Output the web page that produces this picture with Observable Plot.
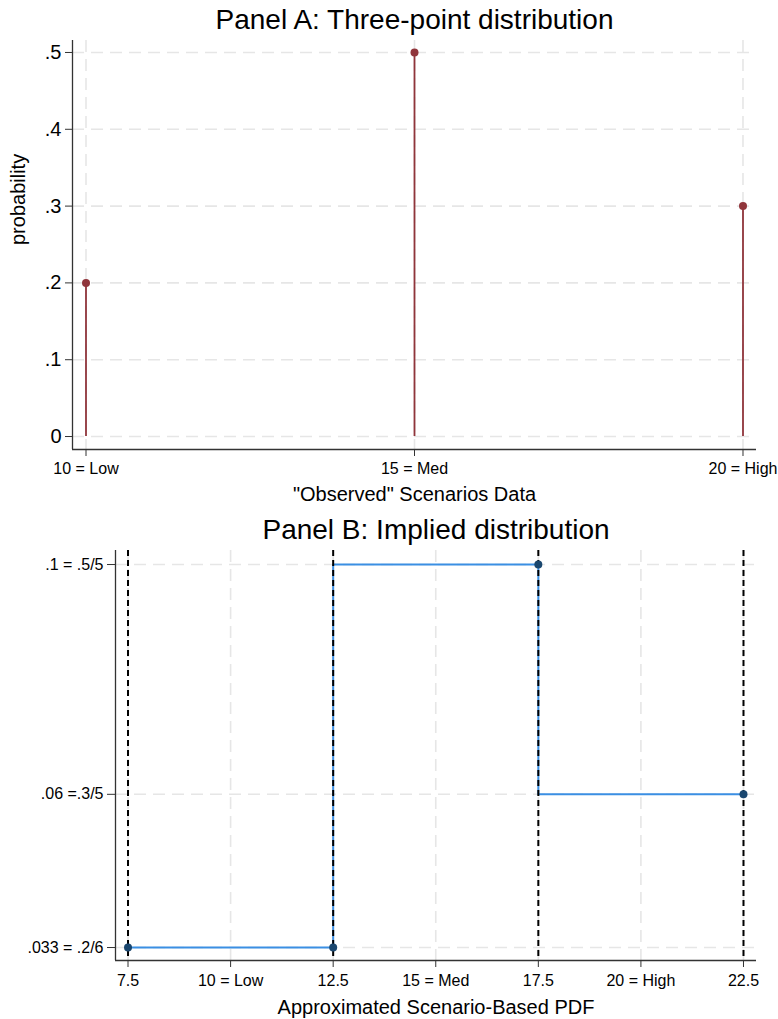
<!DOCTYPE html>
<html>
<head>
<meta charset="utf-8">
<script src="https://cdn.jsdelivr.net/npm/d3@7"></script>
<script src="https://cdn.jsdelivr.net/npm/@observablehq/plot@0.6"></script>
<style>
  html, body { margin: 0; padding: 0; background: #fff; }
  body { width: 778px; height: 1019px; overflow: hidden; }
  #chart svg { display: block; }
</style>
</head>
<body>
<div id="chart"></div>
<script>
// Panel A: three scenarios and their probabilities
const scenarioX = [10, 15, 20];
const scenarioLabels = ["10 = Low", "15 = Med", "20 = High"];
const probabilities = [0.2, 0.5, 0.3];
const probTicks = [0, 0.1, 0.2, 0.3, 0.4, 0.5];

// Panel B: implied piecewise-constant density over scenario bins
const binEdges = [7.5, 12.5, 17.5, 22.5];
const pdfX = [7.5, 12.5, 17.5, 22.5];
const pdfY = [0.2 / 6, 0.2 / 6, 0.5 / 5, 0.3 / 5];
const pdfTicks = [0.2 / 6, 0.3 / 5, 0.5 / 5];
const pdfTickLabels = [".033 = .2/6", ".06 =.3/5", ".1 = .5/5"];
const binTicks = [7.5, 10, 12.5, 15, 17.5, 20, 22.5];
const binTickLabels = ["7.5", "10 = Low", "12.5", "15 = Med", "17.5", "20 = High", "22.5"];

const FONT = "'Liberation Sans', Arial, Helvetica, sans-serif";
const gridStyle = {stroke: "#e6e6e6", strokeOpacity: 1, strokeWidth: 1.6, strokeDasharray: "12,7"};
const axisColor = "#333";

const pointsA = scenarioX.map((x, i) => ({x, p: probabilities[i]}));
const labelA = new Map(scenarioX.map((x, i) => [x, scenarioLabels[i]]));
const xDomA = [9.7945, 20.2055];
const yDomA = [-0.0169, 0.5156];

const panelA = Plot.plot({
  width: 778,
  height: 510,
  marginTop: 40,
  marginBottom: 61,
  marginLeft: 72,
  marginRight: 22,
  style: {fontFamily: FONT, background: "#fff", overflow: "visible", color: "#000"},
  x: {domain: xDomA},
  y: {domain: yDomA},
  marks: [
    Plot.gridY(probTicks, gridStyle),
    Plot.gridX(scenarioX, gridStyle),
    Plot.ruleX([xDomA[0]], {stroke: axisColor, strokeWidth: 1.3}),
    Plot.ruleY([yDomA[0]], {stroke: axisColor, strokeWidth: 1.3}),
    Plot.axisY(probTicks, {
      tickSize: 7, tickPadding: 4, fontSize: 20, stroke: axisColor, label: null,
      tickFormat: d => d === 0 ? "0" : d3.format(".1f")(d).replace(/^0/, "")
    }),
    Plot.axisX(scenarioX, {
      tickSize: 7, tickPadding: 6, fontSize: 16, stroke: axisColor, label: null,
      tickFormat: d => labelA.get(d)
    }),
    Plot.ruleX(pointsA, {x: "x", y1: 0, y2: "p", stroke: "#90353b", strokeWidth: 1.8}),
    Plot.dot(pointsA, {x: "x", y: "p", r: 4, fill: "#90353b", stroke: "none"}),
    Plot.text(["Panel A: Three-point distribution"], {
      text: d => d, frameAnchor: "top", dy: -20, fontSize: 28, lineAnchor: "middle"
    }),
    Plot.text(["\"Observed\" Scenarios Data"], {
      text: d => d, frameAnchor: "bottom", dy: 45, fontSize: 20, lineAnchor: "middle"
    }),
    Plot.text(["probability"], {
      text: d => d, frameAnchor: "left", dx: -54, rotate: -90, fontSize: 20, lineAnchor: "middle"
    })
  ]
});

const pointsB = pdfX.map((x, i) => ({x, y: pdfY[i]}));
const labelBy = new Map(pdfTicks.map((v, i) => [v, pdfTickLabels[i]]));
const labelBx = new Map(binTicks.map((v, i) => [v, binTickLabels[i]]));
const xDomB = [7.195, 22.817];
const yDomB = [0.2 / 6 - 0.00226, 0.10244];

const panelB = Plot.plot({
  width: 778,
  height: 509,
  marginTop: 40,
  marginBottom: 59,
  marginLeft: 115,
  marginRight: 22,
  style: {fontFamily: FONT, background: "#fff", overflow: "visible", color: "#000"},
  x: {domain: xDomB},
  y: {domain: yDomB},
  marks: [
    Plot.gridY(pdfTicks, gridStyle),
    Plot.gridX(binTicks, gridStyle),
    Plot.ruleX([xDomB[0]], {stroke: axisColor, strokeWidth: 1.3}),
    Plot.ruleY([yDomB[0]], {stroke: axisColor, strokeWidth: 1.3}),
    Plot.axisY(pdfTicks, {
      tickSize: 8, tickPadding: 4, fontSize: 16, stroke: axisColor, label: null,
      tickFormat: d => labelBy.get(d)
    }),
    Plot.axisX(binTicks, {
      tickSize: 7, tickPadding: 7, fontSize: 16, stroke: axisColor, label: null,
      tickFormat: d => labelBx.get(d)
    }),
    Plot.line(pointsB, {x: "x", y: "y", curve: "step-before", stroke: "#3b8fe3", strokeWidth: 2}),
    Plot.ruleX(binEdges, {stroke: "#000", strokeWidth: 2, strokeDasharray: "6,4"}),
    Plot.dot(pointsB, {x: "x", y: "y", r: 4, fill: "#1a476f", stroke: "none"}),
    Plot.text(["Panel B: Implied distribution"], {
      text: d => d, frameAnchor: "top", dy: -20, fontSize: 28, lineAnchor: "middle"
    }),
    Plot.text(["Approximated Scenario-Based PDF"], {
      text: d => d, frameAnchor: "bottom", dy: 47, fontSize: 20, lineAnchor: "middle"
    })
  ]
});

const chart = document.getElementById("chart");
chart.appendChild(panelA);
chart.appendChild(panelB);
</script>
</body>
</html>
